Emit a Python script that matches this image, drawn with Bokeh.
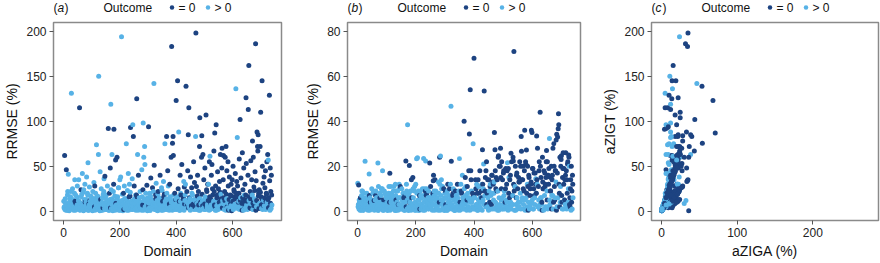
from bokeh.plotting import figure
from bokeh.layouts import row, column
from bokeh.models import ColumnDataSource, FixedTicker, Range1d
from bokeh.core.properties import value
from bokeh.embed import file_html
from bokeh.resources import INLINE

# ---------------- data ----------------
domain = [
    1, 2, 4, 5, 7, 9, 10, 12, 14, 16,
    17, 19, 20, 22, 24, 26, 27, 28, 30, 32,
    34, 35, 37, 39, 40, 42, 44, 45, 47, 49,
    51, 52, 54, 55, 57, 59, 60, 62, 64, 65,
    67, 68, 70, 71, 73, 75, 76, 78, 80, 82,
    84, 86, 87, 89, 91, 92, 94, 96, 98, 99,
    101, 103, 104, 106, 108, 109, 111, 113, 115, 117,
    119, 120, 122, 124, 125, 127, 129, 130, 132, 134,
    136, 137, 139, 141, 142, 144, 146, 147, 149, 151,
    153, 154, 156, 158, 159, 161, 163, 164, 166, 168,
    170, 172, 173, 175, 177, 178, 179, 181, 183, 185,
    187, 188, 190, 192, 193, 195, 197, 198, 200, 202,
    203, 205, 206, 208, 210, 211, 213, 215, 216, 218,
    220, 222, 223, 225, 227, 228, 230, 232, 234, 236,
    238, 239, 241, 243, 244, 246, 248, 249, 251, 253,
    255, 256, 258, 260, 261, 263, 265, 266, 268, 270,
    272, 273, 275, 277, 278, 280, 282, 283, 285, 287,
    288, 289, 291, 293, 294, 296, 298, 299, 301, 302,
    305, 306, 308, 310, 311, 313, 315, 316, 318, 321,
    322, 324, 326, 327, 329, 331, 332, 334, 336, 338,
    340, 341, 343, 345, 347, 348, 350, 352, 354, 355,
    357, 358, 360, 362, 363, 365, 366, 368, 370, 372,
    374, 375, 377, 379, 380, 382, 384, 385, 387, 389,
    390, 392, 394, 395, 397, 399, 400, 402, 404, 405,
    407, 409, 410, 412, 414, 415, 417, 419, 420, 422,
    424, 426, 427, 429, 431, 433, 435, 436, 438, 440,
    441, 443, 445, 446, 448, 450, 451, 453, 455, 457,
    458, 460, 462, 463, 465, 467, 469, 470, 472, 474,
    476, 477, 479, 481, 483, 484, 486, 488, 490, 491,
    493, 495, 496, 498, 500, 502, 503, 505, 506, 508,
    510, 512, 513, 515, 517, 518, 520, 522, 524, 525,
    527, 528, 530, 532, 534, 535, 537, 539, 540, 542,
    544, 545, 547, 549, 550, 552, 554, 555, 557, 559,
    561, 562, 563, 565, 567, 568, 570, 572, 574, 576,
    577, 579, 580, 582, 584, 585, 587, 589, 590, 592,
    594, 595, 597, 599, 600, 602, 604, 605, 607, 609,
    610, 612, 614, 615, 617, 618, 620, 622, 624, 625,
    627, 629, 630, 632, 633, 635, 637, 639, 640, 642,
    644, 646, 648, 649, 651, 653, 655, 656, 658, 659,
    661, 663, 665, 666, 668, 670, 671, 673, 674, 676,
    678, 680, 682, 684, 685, 687, 689, 690, 691, 693,
    695, 696, 698, 700, 701, 703, 705, 706, 708, 710,
    712, 713, 715, 717, 718, 720, 722, 723, 725, 727,
    729, 730, 731, 732, 733, 734, 735, 736, 737, 738,
    3, 6, 8, 11, 13, 15, 18, 21, 23, 25,
    29, 31, 33, 36, 38, 41, 43, 46, 48, 50,
    53, 56, 58, 61, 63, 66, 69, 72, 74, 77,
    79, 81, 83, 85, 88, 90, 93, 95, 97, 100,
    102, 105, 107, 110, 112, 114, 116, 118, 121, 123,
    126, 128, 131, 133, 135, 138, 140, 143, 145, 148,
    150, 152, 155, 157, 160, 162, 165, 167, 169, 171,
    174, 176, 180, 182, 184, 186, 189, 191, 194, 196,
    199, 201, 204, 207, 209, 212, 214, 217, 219, 221,
    224, 226, 229, 231, 233, 235, 237, 240, 242, 245,
    247, 250, 252, 254, 257, 259, 262, 264, 267, 269,
    271, 274, 276, 279, 281, 284, 286, 290, 292, 295,
    297, 300, 303, 304, 307, 309, 312, 314, 317, 319,
    320, 323, 325, 328, 330, 333, 335, 337, 339, 342,
    344, 346, 349, 351, 353, 356, 359, 361, 364, 367,
    369, 371, 373, 376, 378, 381, 383, 386, 388, 391,
    393, 396, 398, 401, 403, 406, 408, 411, 413, 416,
    418, 421, 423, 425, 428, 430, 432, 434, 437, 439,
    442, 444, 447, 449, 452, 454, 456, 459, 461, 464,
    466, 468, 471, 473, 475, 478, 480, 482, 485, 487,
    489, 492, 494, 497, 499, 501, 504, 507, 509, 511,
    514, 516, 519, 521, 523, 526, 529, 531, 533, 536,
    538, 541, 543, 546, 548, 551, 553, 556, 558, 560,
    564, 566, 569, 571, 573, 575, 578, 581, 583, 586,
    588, 591, 593, 596, 598, 601, 603, 606, 608, 611,
    613, 616, 619, 621, 623, 626, 628, 631, 634, 636,
    638, 641, 643, 645, 647, 650, 652, 654, 657, 660,
    662, 664, 667, 669, 672, 675, 677, 679, 681, 683,
    686, 688, 692, 694, 697, 699, 702, 704, 707, 709,
    711, 714, 716, 719, 721, 724, 726, 728, 739, 740,
]

# RRMSE (%) of the ZIGT model = aZIGT (%)
rrmse_zigt = [
    11, 4, 62, 2, 9, 1, 46, 6, 18, 3,
    41, 7, 0.5, 14, 5, 22, 3, 131, 8, 25,
    2, 12, 6, 20, 35, 1, 9, 4, 16, 28,
    7, 3, 35, 11, 115, 1.5, 5, 24, 8, 19,
    42, 4, 21, 0.5, 13, 6, 30, 2, 10, 38,
    3, 18, 54, 1, 7, 27, 12, 4, 15, 2,
    9, 0.5, 22, 5, 32, 14, 28, 3, 11, 74,
    6, 17, 2, 63, 150, 8, 0.5, 44, 13, 25,
    4, 10, 1, 19, 7, 36, 3, 39, 15, 5,
    12, 2, 28, 6, 92, 1, 20, 9, 48, 119,
    3, 63, 14, 0.5, 22, 30, 91, 11, 5, 57,
    7, 2, 60, 16, 4, 26, 1, 10, 35, 6,
    38, 2, 194, 12, 5, 0.5, 20, 8, 28, 3,
    14, 6, 75, 1, 23, 9, 42, 4, 30, 17,
    93, 5, 11, 2, 36, 96, 83, 7, 28, 14,
    3, 18, 8, 125, 16, 63, 1, 40, 12, 5,
    22, 4, 10, 1, 46, 7, 24, 98, 60, 14,
    72, 52, 2, 11, 6, 29, 0.5, 15, 8, 94,
    4, 20, 1, 37, 9, 13, 3, 26, 6, 142,
    51, 7, 2, 18, 31, 5, 12, 0.5, 22, 9,
    15, 3, 40, 8, 1, 26, 23, 11, 6, 33,
    4, 19, 75, 10, 2, 14, 83, 7, 45, 28,
    9, 1, 30, 16, 5, 60, 183, 12, 75.6, 83,
    62, 8, 2, 20, 8.5, 14, 123, 5, 3, 145,
    25, 88, 6, 1, 40, 11, 18, 4, 52, 9,
    2, 16, 33, 27, 12, 30, 139, 7, 22, 4,
    45, 85, 115, 5, 14, 1, 38, 10, 26, 3,
    18, 7, 55, 2, 32, 12, 83, 198, 27.4, 9,
    40, 5, 22, 1, 72, 104, 14, 8, 60, 84,
    11, 63, 3, 35, 6, 48, 16, 2, 107, 24,
    4, 30, 9, 30, 1, 55, 61, 14, 7, 40,
    52, 3, 18, 8, 67, 22, 87, 1, 28, 96,
    6, 15, 44, 2, 25, 10, 33, 5, 63, 19,
    3, 48, 70, 12, 35, 62, 8, 22, 60, 1,
    72, 14, 45, 4, 55, 28, 9, 38, 2, 18,
    6, 30, 0.4, 35, 12, 50, 3, 24, 16, 8,
    42, 136, 20, 33, 82, 28, 5, 11, 58, 2,
    102, 15, 37, 6, 9, 65, 24, 1, 48, 18,
    30, 4, 126, 53, 12, 2, 40, 113, 162, 12,
    7, 22, 56, 3, 35, 18, 78, 9, 60, 27,
    14, 44, 186, 34, 5, 88, 72, 67, 85, 20,
    24, 8, 72, 110, 16, 3, 145, 50, 31, 12,
    38, 6, 26, 45, 2, 20, 55, 10, 63, 57,
    15, 4, 129, 34, 1, 48, 9, 22, 3, 40,
    5, 14, 2, 8, 1, 22, 4, 10, 6, 16,
    3, 9, 13, 1, 6, 11, 18, 2, 7, 4,
    12, 5, 1, 9, 16, 3, 7, 24, 2, 10,
    6, 13, 3, 20, 1, 8, 5, 11, 17, 4,
    2, 9, 14, 5, 1, 20, 7, 12, 3, 16,
    8, 3, 11, 1, 6, 15, 4, 22, 9, 2,
    5, 18, 2, 10, 7, 1, 13, 4, 24, 8,
    12, 3, 6, 17, 1, 9, 4, 14, 2, 26,
    7, 1, 11, 4, 19, 8, 2, 14, 5, 9,
    3, 12, 6, 1, 16, 8, 21, 4, 10, 2,
    6, 13, 3, 9, 1, 18, 5, 11, 7, 15,
    4, 10, 2, 16, 7, 1, 12, 5, 20, 8,
    3, 13, 6, 9, 1, 17, 4, 11, 7, 22,
    5, 10, 2, 14, 7, 1, 19, 4, 12, 8,
    9, 3, 13, 6, 1, 16, 4, 11, 7, 20,
    2, 12, 5, 8, 15, 3, 10, 1, 6, 18,
    7, 4, 13, 2, 9, 16, 5, 11, 1, 20,
    3, 10, 6, 14, 1, 8, 18, 4, 12, 6,
    9, 4, 15, 2, 11, 6, 20, 3, 8, 13,
    5, 12, 2, 9, 17, 4, 7, 14, 1, 10,
    3, 19, 6, 11, 2, 8, 14, 5, 22, 7,
    12, 4, 16, 2, 9, 6, 25, 3, 11, 7,
    5, 13, 1, 18, 8, 3, 10, 21, 6, 14,
    4, 9, 15, 2, 12, 7, 19, 5, 10, 1,
    13, 3, 8, 17, 5, 11, 2, 22, 7, 14,
    6, 16, 3, 10, 20, 4, 12, 8, 1, 15,
    9, 2, 13, 5, 18, 7, 11, 3, 16, 6,
    4, 14, 8, 19, 2, 11, 6, 23, 10, 1,
    12, 5, 17, 3, 9, 21, 7, 14, 2, 10,
    6, 15, 3, 11, 19, 8, 13, 4, 18, 7,
]

# RRMSE (%) of the ZIGA model = aZIGA (%)
rrmse_ziga = [
    12.5, 2, 11.7, 1, 4, 0.5, 6, 3, 7, 1,
    9, 3, 0.3, 5, 2, 22.2, 1, 4.8, 3, 8,
    1, 6, 2, 5, 16.6, 0.5, 4, 2, 5, 10,
    3, 1, 9, 4, 4.8, 1, 2, 7, 3, 6,
    6, 2, 21.5, 0.3, 5, 3, 8, 1, 4, 10,
    1, 18, 9, 0.5, 3, 9, 5, 2, 6, 1,
    4, 0.3, 7, 2, 11, 5, 16.9, 1, 4, 8,
    3, 6, 1, 6, 11, 3, 0.3, 12, 5, 9,
    2, 4, 0.5, 6, 3, 10, 1, 11, 6, 2,
    5, 1, 8, 2, 6, 0.5, 7, 4, 22.3, 12,
    1, 38.5, 5, 0.3, 8, 20.4, 4, 4, 2, 14,
    3, 1, 15, 6, 2, 9, 0.5, 4, 12, 2,
    23.4, 1, 23.8, 5, 2, 0.3, 7, 3, 9, 1,
    6, 2, 10, 0.5, 23.5, 4, 10, 2, 22.4, 7,
    8, 2, 4, 1, 9, 6, 21.5, 3, 11, 5,
    1, 7, 3, 13.6, 16, 9, 0.5, 14, 5, 2,
    8, 2, 4, 0.5, 13, 3, 24, 12, 24.6, 5,
    14, 10, 1, 5, 3, 10, 0.3, 6, 3, 9,
    2, 8, 0.5, 12, 4, 5, 1, 10, 2, 46.7,
    22.2, 3, 1, 7, 10, 2, 5, 0.3, 9, 4,
    6, 1, 12, 3, 0.5, 9, 23.4, 4, 2, 12,
    2, 8, 16, 4, 1, 6, 40, 3, 15, 11,
    4, 0.5, 11, 6, 2, 18, 34.4, 5, 54, 18,
    14, 4, 1, 8, 30, 6, 68, 2, 1, 14,
    10, 12, 3, 0.5, 14, 5, 8, 2, 18, 4,
    1, 6, 12, 27.4, 5, 21, 53.5, 3, 9, 2,
    18, 22, 8, 2, 6, 0.5, 14, 4, 11, 1,
    7, 3, 16, 1, 13, 5, 13, 35, 27.4, 4,
    15, 2, 9, 0.5, 24, 24.7, 6, 3, 20, 28,
    5, 22, 1, 14, 3, 18, 7, 1, 18, 10,
    2, 12, 4, 21.6, 0.5, 19, 15, 6, 3, 16,
    25.8, 1, 7, 3, 24, 22.4, 71, 0.5, 11, 20,
    3, 6, 17, 1, 10, 4, 13, 2, 22, 8,
    1, 33.2, 26.7, 5, 14, 20, 3, 9, 36, 0.5,
    22, 6, 27.2, 2, 20, 11, 4, 15, 1, 7,
    3, 12, 36, 35, 5, 19, 1, 10, 7, 3,
    17, 14.5, 8, 33.5, 12, 28, 2, 5, 22, 1,
    44, 6, 15, 3, 4, 24, 10, 0.5, 18, 7,
    11, 2, 22, 27, 5, 1, 16, 12, 15.4, 32.3,
    3, 9, 20, 1, 14, 7, 28, 4, 30, 11,
    6, 18, 31.7, 34.2, 2, 33, 36.7, 43.4, 38.5, 8,
    24, 4, 20, 24.7, 7, 1, 19, 26, 12, 5,
    14, 3, 26, 18, 1, 8, 22, 4, 25, 20,
    6, 2, 10, 14, 0.5, 20, 4, 9, 1, 16,
    3, 5, 1, 4, 0.5, 9, 2, 6, 4, 8,
    2, 5, 6, 0.5, 3, 7, 6, 1, 4, 3,
    8, 3, 0.5, 5, 9, 2, 4, 11, 1, 6,
    4, 7, 2, 10, 0.5, 5, 3, 8, 7, 2,
    1, 6, 8, 4, 0.5, 11, 5, 7, 2, 9,
    5, 2, 7, 0.5, 4, 9, 3, 12, 6, 1,
    3, 10, 1, 6, 4, 0.5, 8, 2, 9, 5,
    7, 2, 4, 9, 0.5, 6, 3, 10, 1, 11,
    4, 0.5, 8, 3, 9, 5, 1, 7, 3, 6,
    2, 7, 4, 0.5, 9, 5, 10, 3, 6, 1,
    4, 6, 2, 6, 0.5, 8, 3, 7, 5, 9,
    3, 6, 1, 8, 4, 0.5, 7, 3, 11, 5,
    2, 8, 3, 6, 0.5, 9, 2, 7, 4, 12,
    3, 6, 1, 8, 5, 0.5, 9, 2, 7, 5,
    6, 2, 8, 4, 0.5, 9, 3, 6, 5, 10,
    1, 7, 4, 5, 8, 2, 6, 0.5, 4, 9,
    5, 2, 7, 1, 6, 10, 3, 8, 0.5, 11,
    2, 6, 4, 9, 0.5, 12, 10, 3, 7, 15,
    7, 3, 14, 1, 9, 4, 12, 2, 16, 8,
    12, 8, 1, 18, 10, 3, 14, 9, 0.5, 20,
    2, 15, 10, 6, 1, 17, 9, 4, 19, 5,
    18, 2, 8, 1, 14, 4, 22, 3, 7, 12,
    9, 11, 0.5, 16, 6, 2, 15, 13, 4, 20,
    14, 6, 10, 1, 18, 5, 21, 8, 12, 0.5,
    16, 2, 10, 13, 4, 19, 1, 17, 6, 12,
    8, 14, 2, 11, 18, 3, 20, 6, 0.5, 13,
    10, 1, 17, 12, 15, 9, 22, 2, 19, 5,
    9, 15, 7, 16, 1, 20, 5, 18, 13, 0.5,
    17, 6, 12, 2, 11, 23, 4, 15, 1, 19,
    5, 16, 2, 14, 21, 10, 24, 3, 12, 6,
]

# Outcome: 0 -> "= 0", 1 -> "> 0"
outcome = [
    1, 1, 0, 1, 1, 1, 0, 1, 1, 1,
    1, 1, 1, 1, 1, 1, 1, 1, 1, 1,
    1, 1, 1, 1, 1, 1, 0, 1, 1, 1,
    1, 1, 1, 1, 0, 1, 1, 0, 1, 1,
    1, 1, 1, 1, 1, 1, 1, 1, 1, 1,
    1, 1, 1, 1, 1, 1, 0, 1, 1, 1,
    1, 1, 1, 1, 1, 1, 0, 1, 1, 1,
    1, 1, 1, 1, 1, 1, 1, 1, 0, 1,
    1, 1, 1, 1, 1, 1, 1, 0, 1, 1,
    1, 1, 1, 1, 0, 1, 0, 1, 0, 1,
    1, 1, 1, 1, 1, 0, 0, 1, 1, 0,
    1, 1, 0, 1, 1, 1, 1, 1, 1, 1,
    1, 1, 1, 1, 1, 1, 0, 1, 1, 1,
    1, 1, 1, 1, 1, 1, 1, 1, 1, 0,
    0, 1, 1, 1, 1, 1, 0, 1, 0, 1,
    1, 1, 1, 0, 0, 1, 1, 0, 1, 1,
    1, 1, 1, 1, 1, 1, 0, 1, 1, 1,
    1, 1, 1, 1, 1, 0, 1, 1, 1, 0,
    1, 1, 1, 0, 1, 1, 1, 0, 1, 1,
    0, 1, 1, 0, 1, 1, 1, 1, 0, 1,
    1, 1, 0, 1, 1, 1, 1, 0, 1, 1,
    1, 0, 1, 1, 1, 1, 0, 1, 0, 1,
    1, 1, 0, 1, 1, 0, 0, 1, 0, 0,
    0, 1, 1, 0, 1, 1, 0, 1, 1, 0,
    0, 1, 1, 1, 0, 1, 0, 1, 0, 1,
    1, 0, 1, 0, 1, 1, 0, 1, 0, 1,
    0, 0, 0, 1, 1, 1, 0, 1, 0, 1,
    1, 0, 0, 1, 0, 1, 1, 0, 0, 1,
    0, 1, 0, 1, 0, 0, 1, 1, 0, 0,
    1, 0, 1, 0, 1, 0, 1, 1, 0, 0,
    1, 0, 1, 1, 1, 0, 1, 0, 1, 0,
    0, 1, 0, 1, 0, 0, 0, 1, 0, 0,
    1, 0, 0, 1, 0, 1, 0, 1, 0, 1,
    1, 0, 0, 1, 0, 0, 1, 0, 0, 1,
    0, 1, 0, 1, 0, 0, 1, 0, 1, 0,
    1, 0, 0, 0, 1, 0, 1, 0, 0, 1,
    0, 1, 0, 0, 1, 0, 1, 1, 0, 1,
    0, 1, 0, 1, 0, 0, 0, 1, 0, 1,
    0, 1, 0, 0, 0, 1, 0, 0, 0, 1,
    1, 0, 0, 0, 0, 1, 0, 0, 0, 0,
    1, 0, 0, 0, 1, 0, 0, 0, 0, 0,
    0, 1, 0, 0, 0, 1, 0, 0, 0, 1,
    0, 1, 0, 0, 1, 0, 0, 1, 0, 1,
    0, 0, 0, 0, 1, 0, 0, 0, 1, 0,
    1, 1, 1, 1, 1, 1, 1, 1, 1, 1,
    1, 1, 1, 1, 1, 0, 1, 1, 1, 1,
    1, 1, 1, 1, 1, 1, 1, 1, 1, 0,
    1, 1, 1, 1, 1, 0, 1, 1, 1, 1,
    1, 1, 1, 0, 1, 1, 1, 1, 1, 1,
    1, 1, 1, 1, 1, 1, 0, 1, 1, 1,
    1, 1, 1, 1, 1, 1, 1, 0, 1, 1,
    1, 1, 1, 1, 1, 0, 1, 1, 1, 1,
    1, 1, 1, 1, 1, 1, 0, 1, 1, 1,
    1, 1, 1, 1, 0, 1, 1, 1, 1, 1,
    1, 1, 1, 1, 1, 0, 1, 1, 1, 1,
    1, 1, 1, 1, 0, 1, 1, 1, 1, 1,
    1, 1, 0, 1, 1, 1, 1, 1, 1, 1,
    1, 1, 1, 0, 1, 1, 1, 1, 1, 1,
    1, 1, 1, 1, 1, 0, 1, 1, 1, 1,
    1, 1, 1, 0, 1, 1, 1, 1, 1, 1,
    1, 1, 0, 1, 1, 1, 1, 0, 1, 1,
    1, 1, 1, 0, 1, 0, 1, 1, 1, 0,
    1, 0, 0, 1, 1, 0, 1, 1, 0, 1,
    0, 1, 1, 0, 0, 1, 0, 1, 1, 0,
    1, 0, 0, 1, 1, 0, 1, 0, 0, 1,
    0, 1, 0, 1, 0, 1, 0, 1, 1, 0,
    0, 1, 1, 0, 1, 1, 0, 0, 1, 0,
    0, 1, 0, 1, 0, 1, 0, 0, 1, 0,
    0, 1, 0, 0, 1, 0, 1, 0, 1, 0,
    1, 0, 1, 0, 0, 1, 0, 1, 0, 0,
    0, 1, 0, 0, 0, 1, 0, 1, 0, 1,
    0, 0, 1, 0, 1, 0, 0, 0, 1, 0,
    0, 1, 0, 0, 1, 0, 0, 0, 1, 0,
    0, 0, 1, 0, 0, 1, 0, 0, 0, 1,
]

outcome_labels = ["= 0", "> 0"]
panel_letters = ["a", "b", "c"]
y_ticks_a = [0, 50, 100, 150, 200]
y_ticks_b = [0, 20, 40, 60, 80]
x_ticks_dom = [0, 200, 400, 600]
x_ticks_c = [0, 100, 200]

# ---------------- styling ----------------
DARK = "#1d4381"
LIGHT = "#57b2e6"
FONT = "Liberation Sans"
FRAME_GRAY = "#8a8a8a"

n = min(len(domain), len(rrmse_zigt), len(rrmse_ziga), len(outcome))
rows = sorted(zip(domain[:n], rrmse_zigt[:n], rrmse_ziga[:n], outcome[:n]),
              key=lambda r: r[0])
src = ColumnDataSource(dict(
    domain=[r[0] for r in rows],
    zigt=[r[1] for r in rows],
    ziga=[r[2] for r in rows],
    color=[LIGHT if r[3] == 1 else DARK for r in rows],
))

HEAD_H = 15
H = 263 - HEAD_H
BT, BB = 22 - HEAD_H, 43


def make_fig(width, left, right, xr, yr, xticks, yticks, xlabel, ylabel):
    p = figure(width=width, height=H, output_backend="svg", toolbar_location=None,
               x_range=Range1d(*xr), y_range=Range1d(*yr),
               min_border_left=left, min_border_right=right,
               min_border_top=BT, min_border_bottom=BB)
    p.xgrid.visible = False
    p.ygrid.visible = False
    p.outline_line_color = FRAME_GRAY
    p.outline_line_width = 1.5
    p.background_fill_color = "white"
    p.border_fill_color = "white"
    for ax, ticks, lab in ((p.xaxis[0], xticks, xlabel), (p.yaxis[0], yticks, ylabel)):
        ax.ticker = FixedTicker(ticks=ticks)
        ax.axis_line_color = None
        ax.major_tick_line_color = "#555555"
        ax.major_tick_line_width = 1
        ax.major_tick_out = 4
        ax.major_tick_in = 0
        ax.minor_tick_line_color = None
        ax.major_label_text_font = FONT
        ax.major_label_text_font_size = "12px"
        ax.major_label_text_color = "#222222"
        ax.major_label_standoff = 3
        ax.axis_label = lab
        ax.axis_label_text_font = FONT
        ax.axis_label_text_font_size = "14px"
        ax.axis_label_text_font_style = "normal"
        ax.axis_label_text_color = "#111111"
        ax.axis_label_standoff = 3
    return p


def make_header(width, left, right, letter):
    fw = width - left - right
    h = figure(width=width, height=HEAD_H, output_backend="svg", toolbar_location=None,
               x_range=Range1d(0, fw), y_range=Range1d(0, HEAD_H),
               x_axis_type=None, y_axis_type=None,
               min_border_left=left, min_border_right=right,
               min_border_top=0, min_border_bottom=0)
    h.xgrid.visible = False
    h.ygrid.visible = False
    h.outline_line_color = None
    h.background_fill_color = "white"
    h.border_fill_color = "white"
    yc = HEAD_H / 2 + 0.5
    txt = dict(text_font=value(FONT), text_font_size=value("12px"),
               text_baseline="middle", text_align="left", text_color="#111111")
    h.text(x=[0, 11, 50, 125, 161], y=[yc] * 5,
           text=["(", ")", "Outcome", outcome_labels[0], outcome_labels[1]], **txt)
    h.text(x=[4], y=[yc], text=[letter], text_font_style="italic", **txt)
    h.scatter(x=[118.5, 154.5], y=[yc, yc], size=4.5, color=[DARK, LIGHT],
              line_width=0)
    return h


# panel (a)
WA, LA, RA = 300, 53, 19
pa = make_fig(WA, LA, RA, (-35.5, 774), (-10.3, 209.7), x_ticks_dom, y_ticks_a,
              "Domain", "RRMSE (%)")
pa.scatter("domain", "zigt", source=src, size=5, fill_color="color",
           line_color="color", line_width=0)
ha = make_header(WA, LA, RA, panel_letters[0])

# panel (b)
WB, LB, RB = 299, 47, 19
pb = make_fig(WB, LB, RB, (-34.3, 765.6), (-4.1, 83.9), x_ticks_dom, y_ticks_b,
              "Domain", "RRMSE (%)")
pb.scatter("domain", "ziga", source=src, size=5, fill_color="color",
           line_color="color", line_width=0)
hb = make_header(WB, LB, RB, panel_letters[1])

# panel (c)
WC, LC, RC = 281, 52, 2
pc = make_fig(WC, LC, RC, (-13.2, 286.7), (-10.3, 209.7), x_ticks_c, y_ticks_a,
              "aZIGA (%)", "aZIGT (%)")
pc.scatter("ziga", "zigt", source=src, size=5, fill_color="color",
           line_color="color", line_width=0)
hc = make_header(WC, LC, RC, panel_letters[2])

layout = row(column(ha, pa), column(hb, pb), column(hc, pc))
open("out.html", "w").write(file_html(layout, INLINE))
